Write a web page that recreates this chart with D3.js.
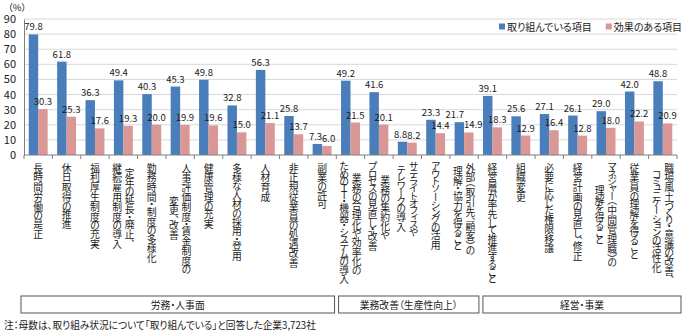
<!DOCTYPE html>
<html>
<head>
<meta charset="utf-8">
<script src="https://cdn.jsdelivr.net/npm/d3@7"></script>
<style>
body { margin: 0; background: #fff; }
text { font-family: "Noto Sans CJK JP", "Noto Sans", sans-serif; fill: #1a1a1a; font-feature-settings: "palt" 1; }
.vlab { writing-mode: vertical-rl; font-feature-settings: normal; font-size: 9.8px; }
</style>
</head>
<body>
<div id="chart"></div>
<script>
// 項目名（\n で改行）
var categories = [
  "長時間労働の是正",
  "休日取得の推進",
  "福利厚生制度の充実",
  "定年の延長・廃止、\n継続雇用制度の導入",
  "勤務時間・制度の多様化",
  "人事評価制度・賃金制度の\n変更、改善",
  "健康管理の充実",
  "多様な人材の採用・登用",
  "人材育成",
  "非正規従業員の処遇改善",
  "副業の許可",
  "業務の合理化や効率化の\nためのＩＴ・機器・システムの導入",
  "業務の集約化や\nプロセスの見直し・改善",
  "サテライトオフィスや\nテレワークの導入",
  "アウトソーシングの活用",
  "外部（取引先、顧客）の\n理解・協力を得ること",
  "経営層が率先して推進すること",
  "組織変更",
  "必要に応じた権限移譲",
  "経営計画の見直し、修正",
  "マネジャー（中間管理職）の\n理解を得ること",
  "従業員の理解を得ること",
  "職場風土づくり・意識の改善、\nコミュニケーションの活性化"
];
var seriesNames = ["取り組んでいる項目", "効果のある項目"];
var doing  = [79.8, 61.8, 36.3, 49.4, 40.3, 45.3, 49.8, 32.8, 56.3, 25.8, 7.3,
              49.2, 41.6, 8.8, 23.3, 21.7,
              39.1, 25.6, 27.1, 26.1, 29.0, 42.0, 48.8];
var effect = [30.3, 25.3, 17.6, 19.3, 20.0, 19.9, 19.6, 15.0, 21.1, 13.7, 6.0,
              21.5, 20.1, 8.2, 14.4, 14.9,
              18.3, 12.9, 16.4, 12.8, 18.0, 22.2, 20.9];
var groupNames = ["労務・人事面", "業務改善（生産性向上）", "経営・事業"];
var groupSizes = [11, 5, 7];
var yTicks = [0, 10, 20, 30, 40, 50, 60, 70, 80, 90];
var note = "注：母数は、取り組み状況について「取り組んでいる」と回答した企業3,723社";

var colors = ["#4a7ebb", "#d99795"];

var W = 700, H = 336;
var margin = {top: 19, right: 23, bottom: 181, left: 24},
    width = W - margin.left - margin.right,
    height = H - margin.top - margin.bottom;

var svg = d3.select("#chart").append("svg")
    .attr("width", W)
    .attr("height", H)
    .append("g")
    .attr("transform", "translate(" + margin.left + "," + margin.top + ")");

var xScale = d3.scaleBand().domain(d3.range(categories.length)).range([0, width]);
var xSub = d3.scaleBand().domain([0, 1]).range([0, xScale.bandwidth()]).paddingOuter(0.5);
var yScale = d3.scaleLinear().domain([0, 90]).range([height, 0]);

// グリッド線
svg.append("g").selectAll("line")
    .data(yTicks.slice(1))
    .enter().append("line")
    .attr("x1", 0).attr("x2", width)
    .attr("y1", function(d) { return yScale(d); })
    .attr("y2", function(d) { return yScale(d); })
    .attr("stroke", "#d9d9d9");

// y軸
var yAxis = d3.axisLeft(yScale).tickValues(yTicks).tickSize(0).tickPadding(8);
var gy = svg.append("g").call(yAxis);
gy.select(".domain").attr("stroke", "#7f7f7f");
gy.selectAll("text").style("font-size", "11px").style("font-family", "'Noto Sans CJK JP'").attr("fill", "#1a1a1a");

svg.append("text")
    .attr("x", -16).attr("y", -8.5)
    .style("font-size", "9.5px")
    .text("（%）");

// 棒
var series = [doing, effect];
series.forEach(function(vals, s) {
  svg.append("g").selectAll("rect")
      .data(vals)
      .enter().append("rect")
      .attr("x", function(d, i) { return xScale(i) + xSub(s); })
      .attr("width", xSub.bandwidth())
      .attr("y", function(d) { return yScale(d); })
      .attr("height", function(d) { return height - yScale(d); })
      .attr("fill", colors[s]);
});

// データラベル（重なる時は左右にずらす）
var labelG = svg.append("g");
categories.forEach(function(c, i) {
  var ts = series.map(function(vals, s) {
    return labelG.append("text")
        .attr("x", xScale(i) + xSub(s) + xSub.bandwidth() / 2)
        .attr("y", yScale(vals[i]) - 4)
        .attr("text-anchor", "middle")
        .style("font-size", "9.5px")
        .text(vals[i].toFixed(1));
  });
  var wb = ts[0].node().getComputedTextLength(), wp = ts[1].node().getComputedTextLength();
  var dy = Math.abs(yScale(doing[i]) - yScale(effect[i]));
  var gap = xSub.bandwidth() - (wb + wp) / 2;
  if (dy < 11 && gap < 0) {
    ts[0].attr("x", +ts[0].attr("x") + gap / 2);
    ts[1].attr("x", +ts[1].attr("x") - gap / 2);
  }
});

// x軸（区切り目盛）
svg.append("line")
    .attr("x1", 0).attr("x2", width)
    .attr("y1", height).attr("y2", height)
    .attr("stroke", "#7f7f7f");
svg.append("g").selectAll("line")
    .data(d3.range(categories.length + 1))
    .enter().append("line")
    .attr("x1", function(k) { return k * xScale.step(); })
    .attr("x2", function(k) { return k * xScale.step(); })
    .attr("y1", height).attr("y2", height + 4)
    .attr("stroke", "#7f7f7f");

// 縦書きラベル：文字ごとに送り幅を決めて配置
function adv(ch) {
  if (/[\u4e00-\u9fff々]/.test(ch)) return 1;
  if ("・、（）「」".indexOf(ch) >= 0) return 0.5;
  if (/[ぁぃぅぇぉっゃゅょァィゥェォッャュョ]/.test(ch)) return 0.65;
  if (ch === "ー") return 0.9;
  if (/[Ａ-Ｚ]/.test(ch)) return 0.7;
  return 0.75;
}
function glyphShift(ch) {
  if (ch === "、" || ch === "）") return 0;
  if (ch === "（") return -0.5;
  return -(1 - adv(ch)) / 2;
}
var fs = 9.8, labTop = height + 8, lineGap = 12.5;
var labG = svg.append("g");
categories.forEach(function(c, i) {
  var lines = c.split("\n");
  var n = lines.length;
  var cx = xScale(i) + xScale.bandwidth() / 2;
  var lens = lines.map(function(t) { return d3.sum(Array.from(t), adv) * fs; });
  var maxLen = d3.max(lens);
  lines.forEach(function(t, k) {
    var lx = cx + ((n - 1) / 2 - k) * lineGap;
    var pos = labTop + (maxLen - lens[k]) / 2;
    Array.from(t).forEach(function(ch) {
      labG.append("text")
          .attr("class", "vlab")
          .attr("x", lx)
          .attr("y", pos + glyphShift(ch) * fs)
          .text(ch);
      pos += adv(ch) * fs;
    });
  });
});

// 区分の枠
var boxScale = d3.scaleLinear().domain([0, categories.length]).range([-5, width + 6]);
var start = 0;
groupNames.forEach(function(g, j) {
  var x0 = boxScale(start) + 2, x1 = boxScale(start + groupSizes[j]) - 2;
  svg.append("rect")
      .attr("x", x0).attr("y", 277)
      .attr("width", x1 - x0).attr("height", 17)
      .attr("fill", "none")
      .attr("stroke", "#555");
  svg.append("text")
      .attr("x", (x0 + x1) / 2).attr("y", 290)
      .attr("text-anchor", "middle")
      .style("font-size", "9.8px")
      .text(g);
  start += groupSizes[j];
});

// 凡例
var legend = svg.append("g").attr("transform", "translate(475,8)");
var lx = 0;
seriesNames.forEach(function(name, s) {
  legend.append("rect")
      .attr("x", lx).attr("y", -3.5)
      .attr("width", 6).attr("height", 6)
      .attr("fill", colors[s]);
  var t = legend.append("text")
      .attr("x", lx + 8).attr("y", 3.5)
      .style("font-size", "10px")
      .text(name);
  lx += 8 + t.node().getComputedTextLength() + 14;
});

// 注記
svg.append("text")
    .attr("x", -20).attr("y", 310)
    .style("font-size", "9.7px")
    .text(note);
</script>
</body>
</html>
